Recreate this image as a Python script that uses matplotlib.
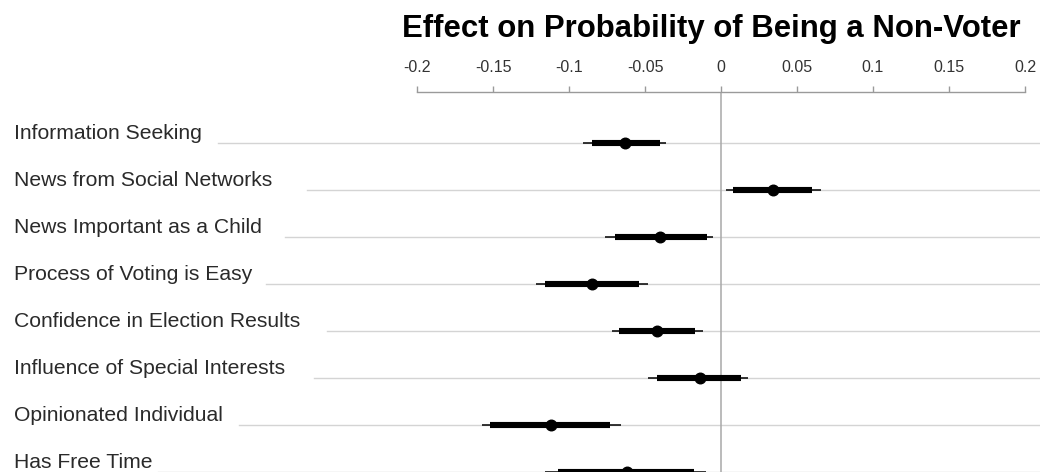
import matplotlib
matplotlib.use("Agg")
import matplotlib.pyplot as plt
from matplotlib.transforms import blended_transform_factory

# Coefficient summaries (effect on probability of being a non-voter)
labels = [
    "Information Seeking",
    "News from Social Networks",
    "News Important as a Child",
    "Process of Voting is Easy",
    "Confidence in Election Results",
    "Influence of Special Interests",
    "Opinionated Individual",
    "Has Free Time",
]
estimate = [-0.063, 0.034, -0.040, -0.085, -0.042, -0.014, -0.112, -0.062]
inner_lo = [-0.085, 0.008, -0.070, -0.116, -0.067, -0.042, -0.152, -0.107]
inner_hi = [-0.040, 0.060, -0.009, -0.054, -0.017, 0.013, -0.073, -0.018]
outer_lo = [-0.091, 0.003, -0.076, -0.122, -0.072, -0.048, -0.157, -0.116]
outer_hi = [-0.036, 0.066, -0.005, -0.048, -0.012, 0.018, -0.066, -0.010]
ticks = [-0.2, -0.15, -0.1, -0.05, 0, 0.05, 0.1, 0.15, 0.2]
tick_labels = ["-0.2", "-0.15", "-0.1", "-0.05", "0", "0.05", "0.1", "0.15", "0.2"]

# where each row's gray guide starts (px from left), after its label
guide_start_px = [218, 307, 285, 266, 327, 314, 239, 158]

plt.rcParams['font.family'] = ['Liberation Sans', 'DejaVu Sans']

W, H = 1040, 472
fig = plt.figure(figsize=(W / 100, H / 100), dpi=100)

# axes spans x=417..1025 px, y from bottom edge up to the axis line at 92 px
ax_left, ax_right, ax_top = 417, 1025, 92
ax = fig.add_axes([ax_left / W, 0, (ax_right - ax_left) / W, (H - ax_top) / H])
ax.set_xlim(-0.2, 0.2)
# rows sit at 143 + 47*i px; bottom edge is row 7
ax.set_ylim(7, -(143 - ax_top) / 47)

for s in ['left', 'right', 'bottom']:
    ax.spines[s].set_visible(False)
ax.spines['top'].set_color('#9a9a9a')
ax.spines['top'].set_linewidth(1.0)
ax.xaxis.tick_top()
ax.set_xticks(ticks)
ax.set_xticklabels(tick_labels)
ax.tick_params(axis='x', length=4.5, color='#9a9a9a', width=1.0,
               labelsize=11.5, labelcolor='#333333', pad=8)
ax.set_yticks([])

ax.axvline(0, color='#a8a8a8', linewidth=1.1, zorder=1)

# row labels and gray guide lines
trans = blended_transform_factory(fig.transFigure, ax.transData)
for i, lab in enumerate(labels):
    fig.text(14 / W, i - 0.09, lab, fontsize=15.2, color='#2a2a2a',
             ha='left', va='baseline', transform=trans)
    ax.plot([guide_start_px[i] / W, 1.0], [i, i], transform=trans,
            color='#d4d4d4', linewidth=1.0, clip_on=False, zorder=0)

y = list(range(len(labels)))
ax.hlines(y, outer_lo, outer_hi, color='black', linewidth=1.1, zorder=3)
ax.hlines(y, inner_lo, inner_hi, color='black', linewidth=4.4, zorder=4)
ax.plot(estimate, y, 'o', color='black', markersize=7.6, zorder=5)

fig.text(711 / W, 1 - 37 / H, "Effect on Probability of Being a Non-Voter",
         fontsize=22.4, fontweight='bold', ha='center', va='baseline')

fig.savefig("out.png", dpi=100)
